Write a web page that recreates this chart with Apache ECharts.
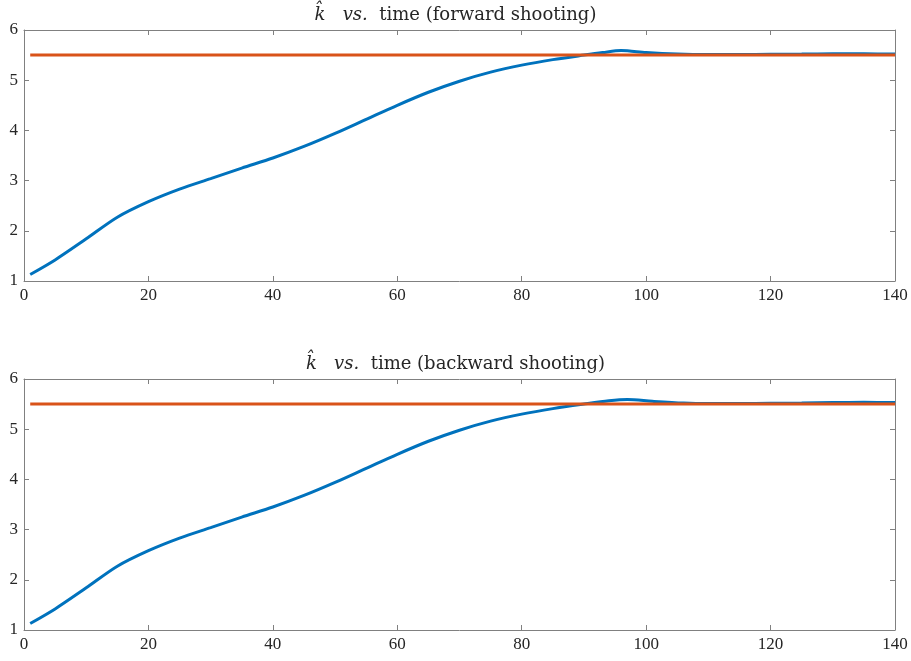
<!DOCTYPE html>
<html>
<head>
<meta charset="utf-8">
<script src="https://cdn.jsdelivr.net/npm/echarts@6/dist/echarts.min.js"></script>
<style>
  html, body { margin: 0; padding: 0; background: #fff; }
  #chart { width: 911px; height: 661px; }
</style>
</head>
<body>
<div id="chart"></div>
<script>
// время и значения k-hat
const timeFwd = [1, 5, 10, 15, 20, 25, 30, 35, 40, 45, 50, 55, 60, 65, 70, 75, 80, 85, 90, 93, 96, 100, 105, 110, 115, 120, 125, 130, 135, 140];
const kFwd = [1.13, 1.42, 1.84, 2.27, 2.58, 2.83, 3.04, 3.25, 3.45, 3.68, 3.94, 4.22, 4.50, 4.76, 4.98, 5.16, 5.30, 5.41, 5.50, 5.55, 5.59, 5.55, 5.52, 5.51, 5.51, 5.515, 5.52, 5.525, 5.525, 5.52];
const timeBwd = [1, 5, 10, 15, 20, 25, 30, 35, 40, 45, 50, 55, 60, 65, 70, 75, 80, 85, 90, 94, 97, 101, 106, 110, 115, 120, 125, 130, 135, 140];
const kBwd = [1.13, 1.42, 1.84, 2.27, 2.58, 2.83, 3.04, 3.25, 3.45, 3.68, 3.94, 4.22, 4.50, 4.76, 4.98, 5.16, 5.30, 5.41, 5.50, 5.565, 5.59, 5.555, 5.52, 5.51, 5.51, 5.515, 5.52, 5.53, 5.535, 5.53];
const steadyTime = [1, 140];
const kSteady = 5.5;
const xTicks = [0, 20, 40, 60, 80, 100, 120, 140];
const yTicks = [1, 2, 3, 4, 5, 6];

const FONT = '"Liberation Serif", "DejaVu Serif", serif';
const TITLE_FONT = '"DejaVu Serif", "Liberation Serif", serif';
const AXIS_COLOR = '#808080';
const TEXT_COLOR = '#262626';

const chart = echarts.init(document.getElementById('chart'), null, { renderer: 'canvas' });

function pairs(xs, ys) {
    return xs.map((x, i) => [x, ys[i]]);
}

function xAxisFor(gridIndex, position, showLabels) {
    return {
        type: 'value',
        gridIndex: gridIndex,
        position: position,
        min: xTicks[0],
        max: xTicks[xTicks.length - 1],
        interval: 20,
        axisLine: { show: true, onZero: false, lineStyle: { color: AXIS_COLOR, width: 1 } },
        axisTick: { show: true, inside: true, length: 5, lineStyle: { color: AXIS_COLOR } },
        axisLabel: { show: showLabels, color: TEXT_COLOR, fontFamily: FONT, fontSize: 17, margin: 6 },
        splitLine: { show: false }
    };
}

function yAxisFor(gridIndex, position, showLabels) {
    return {
        type: 'value',
        gridIndex: gridIndex,
        position: position,
        min: yTicks[0],
        max: yTicks[yTicks.length - 1],
        interval: 1,
        axisLine: { show: true, onZero: false, lineStyle: { color: AXIS_COLOR, width: 1 } },
        axisTick: { show: true, inside: true, length: 5, lineStyle: { color: AXIS_COLOR } },
        axisLabel: { show: showLabels, color: TEXT_COLOR, fontFamily: FONT, fontSize: 17, margin: 6 },
        splitLine: { show: false }
    };
}

function titleFor(top, rest) {
    return {
        left: 'center',
        top: top,
        text: '{i|k\u0302}   {i|vs.}  ' + rest,
        textStyle: {
            fontFamily: TITLE_FONT,
            fontSize: 18,
            fontWeight: 'normal',
            color: TEXT_COLOR,
            rich: {
                i: { fontFamily: TITLE_FONT, fontSize: 18, fontStyle: 'italic', color: TEXT_COLOR }
            }
        }
    };
}

const option = {
    animation: false,
    backgroundColor: '#fff',
    title: [
        titleFor(1, 'time (forward shooting)'),
        titleFor(350, 'time (backward shooting)')
    ],
    grid: [
        { left: 24, right: 16, top: 30, height: 251, show: false },
        { left: 24, right: 16, top: 379, height: 251, show: false }
    ],
    xAxis: [
        xAxisFor(0, 'bottom', true),
        xAxisFor(0, 'top', false),
        xAxisFor(1, 'bottom', true),
        xAxisFor(1, 'top', false)
    ],
    yAxis: [
        yAxisFor(0, 'left', true),
        yAxisFor(0, 'right', false),
        yAxisFor(1, 'left', true),
        yAxisFor(1, 'right', false)
    ],
    series: [
        {
            type: 'line', xAxisIndex: 0, yAxisIndex: 0,
            data: pairs(timeFwd, kFwd), showSymbol: false, smooth: 0.3,
            lineStyle: { color: '#0072BD', width: 3 }
        },
        {
            type: 'line', xAxisIndex: 0, yAxisIndex: 0,
            data: pairs(steadyTime, steadyTime.map(() => kSteady)), showSymbol: false,
            lineStyle: { color: '#D95319', width: 3 }
        },
        {
            type: 'line', xAxisIndex: 2, yAxisIndex: 2,
            data: pairs(timeBwd, kBwd), showSymbol: false, smooth: 0.3,
            lineStyle: { color: '#0072BD', width: 3 }
        },
        {
            type: 'line', xAxisIndex: 2, yAxisIndex: 2,
            data: pairs(steadyTime, steadyTime.map(() => kSteady)), showSymbol: false,
            lineStyle: { color: '#D95319', width: 3 }
        }
    ]
};

chart.setOption(option);
window.addEventListener('resize', function() {
    chart.resize();
});
</script>
</body>
</html>
